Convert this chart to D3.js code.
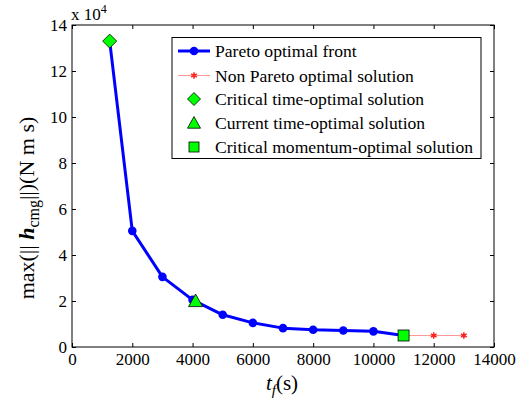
<!DOCTYPE html>
<html><head><meta charset="utf-8">
<script src="https://cdn.jsdelivr.net/npm/d3@7"></script>
<style>body{margin:0;background:#fff}svg{display:block}</style>
</head><body>
<script>
const paretoX = [1250, 2000, 3000, 4000, 5000, 6000, 7000, 8000, 9000, 10000, 11000];
const paretoY = [13.3, 5.05, 3.05, 2.05, 1.4, 1.05, 0.82, 0.75, 0.72, 0.68, 0.5];
const nonParetoX = [11000, 12000, 13000];
const nonParetoY = [0.5, 0.5, 0.5];
const criticalTime = [1250, 13.3];
const currentTime = [4100, 2.0];
const criticalMomentum = [11000, 0.5];
const xTicks = [0, 2000, 4000, 6000, 8000, 10000, 12000, 14000];
const yTicks = [0, 2, 4, 6, 8, 10, 12, 14];
const legendLabels = ["Pareto optimal front", "Non Pareto optimal solution", "Critical time-optimal solution", "Current time-optimal solution", "Critical momentum-optimal solution"];

const W = 519, H = 412;
const m = {l: 72, r: 25, t: 25, b: 65};
const FF = "Liberation Serif";
const svg = d3.select("body").append("svg").attr("width", W).attr("height", H);
const x = d3.scaleLinear().domain([0, 14000]).range([m.l, W - m.r]);
const y = d3.scaleLinear().domain([0, 14]).range([H - m.b, m.t]);
const pw = W - m.r - m.l, ph = H - m.b - m.t;

// axes
const fs = 17;
function styleAxis(g) {
  g.attr("font-family", null);
  g.select(".domain").remove();
  g.selectAll("text").attr("font-size", null).style("font-size", fs + "px").style("font-family", FF).attr("fill", "#000");
}
svg.append("g").attr("transform", `translate(0,${H - m.b})`)
  .call(d3.axisBottom(x).tickValues(xTicks).tickFormat(d3.format("d")).tickSizeInner(-4).tickSizeOuter(0).tickPadding(6))
  .call(styleAxis);
svg.append("g").attr("transform", `translate(0,${m.t})`)
  .call(d3.axisTop(x).tickValues(xTicks).tickFormat("").tickSizeInner(-4).tickSizeOuter(0))
  .call(styleAxis);
svg.append("g").attr("transform", `translate(${m.l},0)`)
  .call(d3.axisLeft(y).tickValues(yTicks).tickSizeInner(-4).tickSizeOuter(0).tickPadding(5))
  .call(styleAxis);
svg.append("g").attr("transform", `translate(${W - m.r},0)`)
  .call(d3.axisRight(y).tickValues(yTicks).tickFormat("").tickSizeInner(-4).tickSizeOuter(0))
  .call(styleAxis);
svg.append("rect").attr("x", m.l).attr("y", m.t).attr("width", pw).attr("height", ph)
  .attr("fill", "none").attr("stroke", "#000").attr("stroke-width", 1);

// exponent label
const ex = svg.append("text").attr("x", m.l - 1).attr("y", m.t - 5).style("font-family", FF).style("font-size", fs + "px");
ex.append("tspan").text("x 10");
ex.append("tspan").attr("dy", -7).style("font-size", "12px").text("4");

// non pareto
const ln = d3.line().x(d => x(d[0])).y(d => y(d[1]));
const npData = nonParetoX.map((v, i) => [v, nonParetoY[i]]);
svg.append("path").attr("d", ln(npData)).attr("fill", "none").attr("stroke", "#ff9999").attr("stroke-width", 1);
const star = d3.symbol().type(d3.symbolAsterisk).size(30);
svg.selectAll(".np").data(npData.slice(1)).enter().append("path")
  .attr("transform", d => `translate(${x(d[0])},${y(d[1])})`)
  .attr("d", star).attr("stroke", "#ff2020").attr("stroke-width", 1.5).attr("fill", "none");
svg.selectAll(".npd").data(npData.slice(1)).enter().append("circle")
  .attr("cx", d => x(d[0])).attr("cy", d => y(d[1])).attr("r", 1.8).attr("fill", "#ff2020");

// pareto
const pData = paretoX.map((v, i) => [v, paretoY[i]]);
svg.append("path").attr("d", ln(pData)).attr("fill", "none").attr("stroke", "#0000ff").attr("stroke-width", 3).attr("stroke-linejoin", "round");
svg.selectAll(".pc").data(pData.slice(1, -1)).enter().append("circle")
  .attr("cx", d => x(d[0])).attr("cy", d => y(d[1])).attr("r", 4.3).attr("fill", "#0000ff");

// special markers
function diamond(g, cx, cy, s) {
  g.append("path").attr("d", `M${cx},${cy - s}L${cx + s},${cy}L${cx},${cy + s}L${cx - s},${cy}Z`)
    .attr("fill", "#00ff00").attr("stroke", "#000").attr("stroke-width", 0.8);
}
function tri(g, cx, cy, s) {
  g.append("path").attr("d", `M${cx},${cy - s}L${cx + s},${cy + s * 0.8}L${cx - s},${cy + s * 0.8}Z`)
    .attr("fill", "#00ff00").attr("stroke", "#000").attr("stroke-width", 0.8);
}
function sq(g, cx, cy, s) {
  g.append("rect").attr("x", cx - s).attr("y", cy - s).attr("width", 2 * s).attr("height", 2 * s)
    .attr("fill", "#00ff00").attr("stroke", "#000").attr("stroke-width", 0.8);
}
diamond(svg, x(criticalTime[0]), y(criticalTime[1]), 7);
tri(svg, x(currentTime[0]), y(currentTime[1]), 7);
sq(svg, x(criticalMomentum[0]), y(criticalMomentum[1]), 5.5);

// legend
const lg = svg.append("g");
lg.append("rect").attr("x", 172).attr("y", 37.5).attr("width", 309).attr("height", 121)
  .attr("fill", "#fff").attr("stroke", "#000").attr("stroke-width", 1);
const rowY = [51, 75.5, 99, 123, 147];
const lx0 = 178, lx1 = 210, lcx = 194;
lg.append("line").attr("x1", lx0).attr("x2", lx1).attr("y1", rowY[0]).attr("y2", rowY[0]).attr("stroke", "#0000ff").attr("stroke-width", 3);
lg.append("circle").attr("cx", lcx).attr("cy", rowY[0]).attr("r", 4.3).attr("fill", "#0000ff");
lg.append("line").attr("x1", lx0).attr("x2", lx1).attr("y1", rowY[1]).attr("y2", rowY[1]).attr("stroke", "#ff9999").attr("stroke-width", 1);
lg.append("path").attr("transform", `translate(${lcx},${rowY[1]})`).attr("d", star).attr("stroke", "#ff2020").attr("stroke-width", 1.5).attr("fill", "none");
diamond(lg, lcx, rowY[2], 6.5);
tri(lg, lcx, rowY[3], 6.5);
sq(lg, lcx, rowY[4], 5);
lg.selectAll(".lt").data(legendLabels).enter().append("text")
  .attr("x", 215).attr("y", (d, i) => rowY[i] + 6).style("font-family", FF).style("font-size", "17.6px").text(d => d);

// axis titles
const xl = svg.append("text").attr("x", 282).attr("y", 390).attr("text-anchor", "middle").style("font-family", FF).style("font-size", "21px");
xl.append("tspan").style("font-style", "italic").text("t");
xl.append("tspan").attr("dy", 5).style("font-style", "italic").style("font-size", "15px").text("f");
xl.append("tspan").attr("dy", -5).text("(s)");

const yl = svg.append("text").attr("transform", `translate(34,208) rotate(-90)`)
  .attr("text-anchor", "middle").style("font-family", FF).style("font-size", "22px");
yl.append("tspan").text("max(|| ");
yl.append("tspan").style("font-style", "italic").style("font-weight", "bold").text("h");
yl.append("tspan").attr("dy", 5).style("font-size", "16px").text("cmg");
yl.append("tspan").attr("dy", -5).text("||)(N m s)");
</script>
</body></html>
